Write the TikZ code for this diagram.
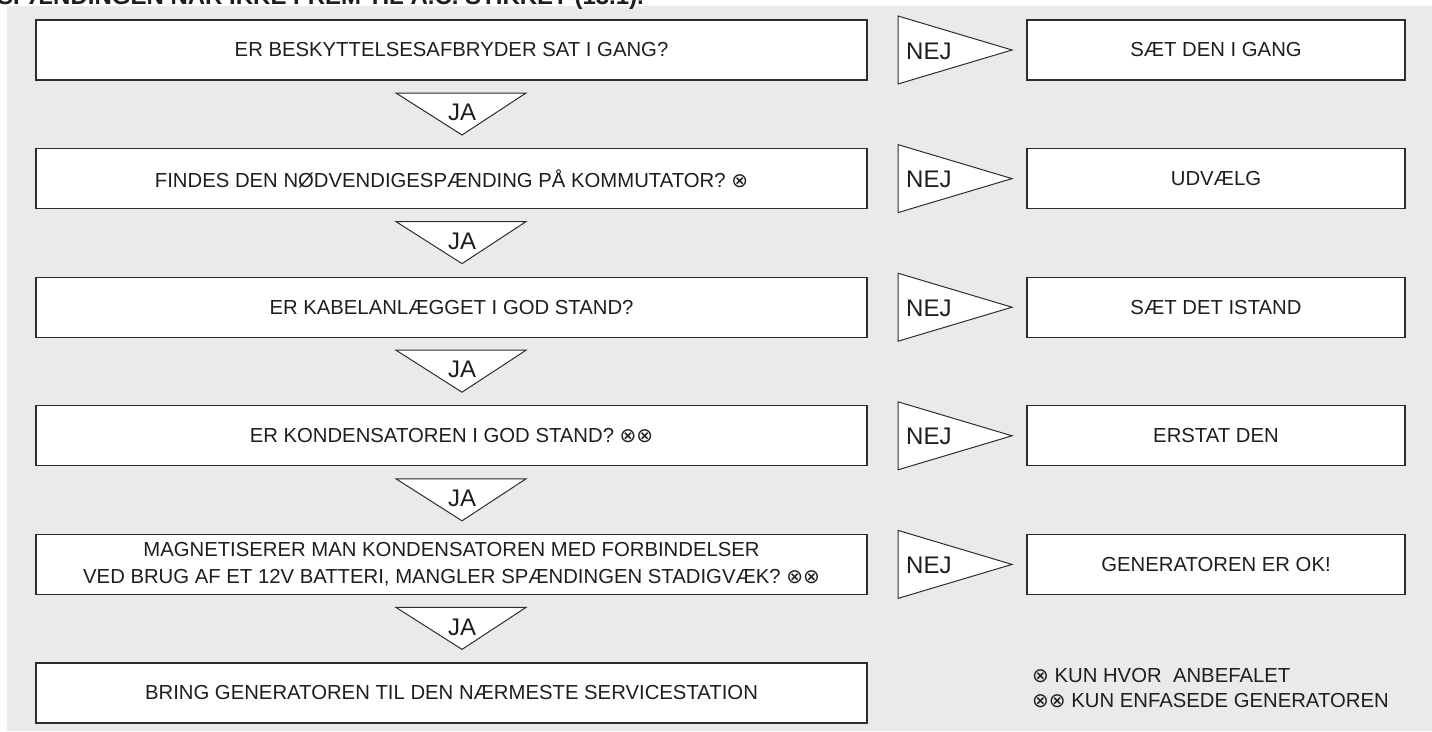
\documentclass[tikz,border=0pt]{standalone}
\usepackage{fontspec}
\setmainfont{Liberation Sans}
\newfontfamily\symfont{DejaVu Sans}
\definecolor{bg}{RGB}{233,235,234}
\definecolor{ln}{RGB}{45,45,45}
\definecolor{tx}{RGB}{30,30,30}
\newcommand{\ox}{{\symfont\fontsize{20}{20}\selectfont ⊗}}
\tikzset{
  qbox/.style={draw=ln, line width=1.2pt, fill=white, minimum width=831pt, minimum height=60pt, inner sep=0pt, align=center, text=tx, font=\fontsize{20.3}{27}\selectfont},
  abox/.style={draw=ln, line width=1.2pt, fill=white, minimum width=378pt, minimum height=60pt, inner sep=0pt, align=center, text=tx, font=\fontsize{20.3}{27}\selectfont},
  tri/.style={draw=ln, line width=1pt, fill=white},
  lbl/.style={text=tx, inner sep=0pt, font=\fontsize{24}{24}\selectfont},
  legend/.style={text=tx, inner sep=0pt, align=left, anchor=west, font=\fontsize{20.3}{24.5}\selectfont}
}
\begin{document}
\begin{tikzpicture}[x=1pt,y=-1pt]
\useasboundingbox (0,0) rectangle (1432,731);
\fill[white] (0,0) rectangle (1432,731);
\fill[bg] (7,6) rectangle (1432,731);
\node[anchor=base west, inner sep=0pt, text=tx, font=\bfseries\fontsize{24}{24}\selectfont] (title) at (-3,4) {SPÆNDINGEN NÅR IKKE FREM TIL A.C. STIKKET (13.1).};

% left question boxes
\node[qbox] (q1) at (451.5,50) {ER BESKYTTELSESAFBRYDER SAT I GANG?};
\node[qbox] (q2) at (451.5,178.6) {FINDES DEN NØDVENDIGESPÆNDING PÅ KOMMUTATOR? \ox};
\node[qbox] (q3) at (451.5,307.2) {ER KABELANLÆGGET I GOD STAND?};
\node[qbox] (q4) at (451.5,435.8) {ER KONDENSATOREN I GOD STAND? \ox\ox};
\node[qbox] (q5) at (451.5,564.4) {MAGNETISERER MAN KONDENSATOREN MED FORBINDELSER\\VED BRUG AF ET 12V BATTERI, MANGLER SPÆNDINGEN STADIGVÆK? \ox\ox};
\node[qbox] (q6) at (451.5,693) {BRING GENERATOREN TIL DEN NÆRMESTE SERVICESTATION};

% right answer boxes
\node[abox] (a1) at (1216,50) {SÆT DEN I GANG};
\node[abox] (a2) at (1216,178.6) {UDVÆLG};
\node[abox] (a3) at (1216,307.2) {SÆT DET ISTAND};
\node[abox] (a4) at (1216,435.8) {ERSTAT DEN};
\node[abox] (a5) at (1216,564.4) {GENERATOREN ER OK!};

% NEJ triangles
\foreach \i/\c in {1/50,2/178.6,3/307.2,4/435.8,5/564.4}{
  \filldraw[tri] (898,\c-34) -- (1012,\c) -- (898,\c+34) -- cycle;
  \node[lbl, anchor=west] (nej\i) at (906,\c+1) {NEJ};
}

% JA triangles
\foreach \i/\b in {1/80,2/208.6,3/337.2,4/465.8,5/594.4}{
  \filldraw[tri] (396,\b+13) -- (526,\b+13) -- (462,\b+55) -- cycle;
  \node[lbl] (ja\i) at (462,\b+32.5) {JA};
}

% legend
\node[legend] (leg) at (1032,688) {\ox\ KUN HVOR\ \ ANBEFALET\\\ox\ox\ KUN ENFASEDE GENERATOREN};
\end{tikzpicture}
\end{document}
